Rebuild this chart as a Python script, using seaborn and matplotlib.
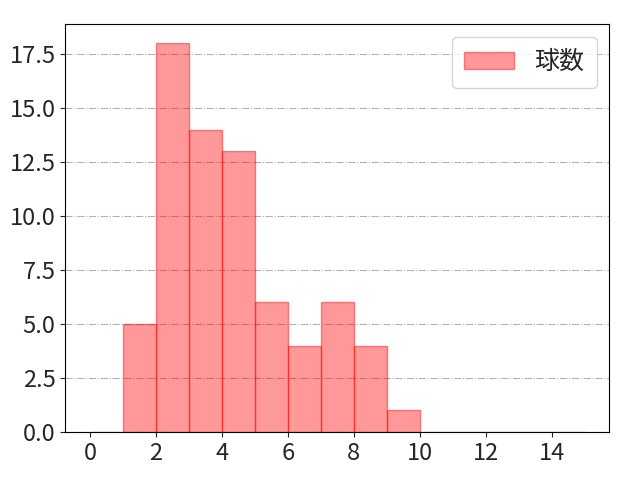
import matplotlib
matplotlib.use("Agg")
import matplotlib.pyplot as plt
import seaborn as sns
import numpy as np
import pandas as pd

bin_left = [0, 1, 2, 3, 4, 5, 6, 7, 8, 9, 10, 11, 12, 13, 14]
counts = [0, 5, 18, 14, 13, 6, 4, 6, 4, 1, 0, 0, 0, 0, 0]
bin_edges = list(range(0, 16))
label = "球数"

sns.set_style("ticks")
plt.rcParams['font.family'] = ['Noto Sans CJK JP', 'DejaVu Sans']
plt.rcParams['font.size'] = 17

df = pd.DataFrame({"x": [b + 0.5 for b in bin_left], "w": counts})

fig, ax = plt.subplots(figsize=(6.4, 4.8), dpi=100)
fig.subplots_adjust(left=0.102, right=0.952, top=0.95, bottom=0.1)
sns.histplot(data=df, x="x", weights="w", bins=bin_edges, color="red", alpha=0.4,
             edgecolor=(1, 0, 0, 0.45), linewidth=1, label=label, ax=ax)
ax.set_xlabel("")
ax.set_ylabel("")
ax.set_xticks([0, 2, 4, 6, 8, 10, 12, 14])
ax.set_yticks(np.arange(0, 18.0, 2.5))
ax.yaxis.grid(True, linestyle="-.", color="gray", alpha=0.6, linewidth=0.8)
ax.set_axisbelow(True)
ax.tick_params(labelsize=17)
for s in ax.spines.values():
    s.set_visible(True)
    s.set_color("black")
ax.legend(loc="upper right", fontsize=18, borderpad=0.5)
fig.savefig("out.png", dpi=100)
